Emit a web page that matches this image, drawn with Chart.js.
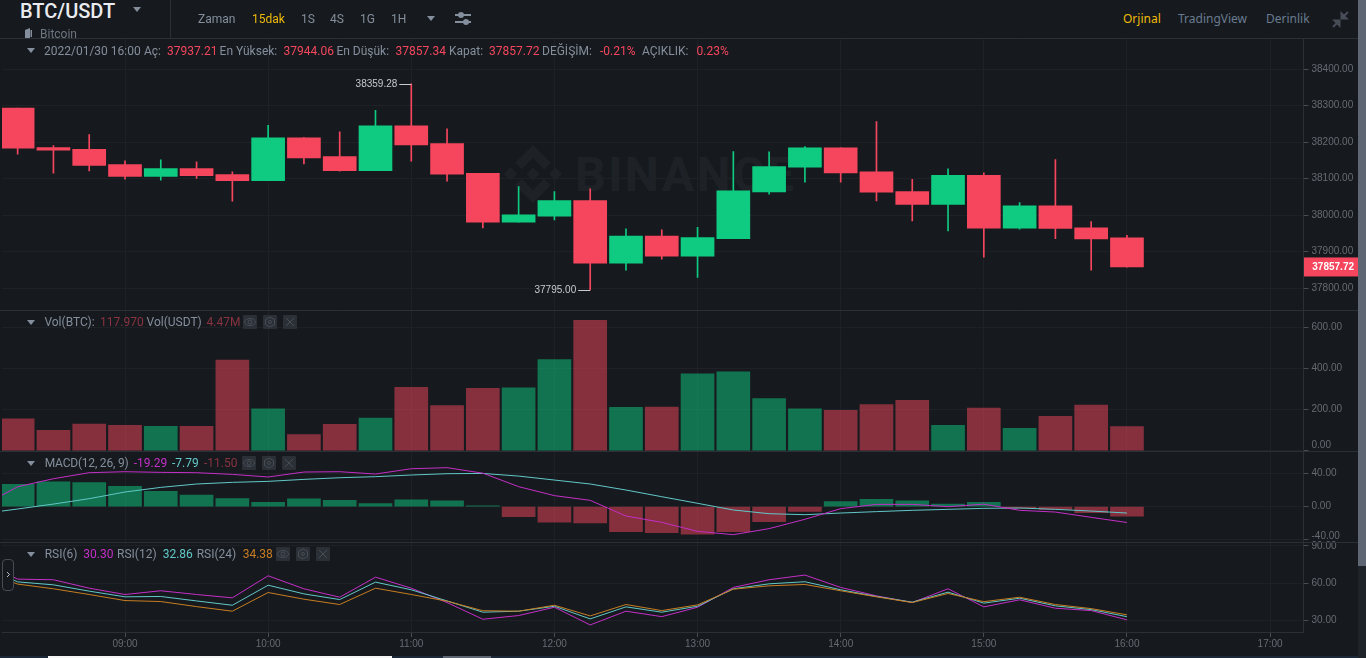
<!DOCTYPE html>
<html lang="tr">
<head>
<meta charset="utf-8">
<title>BTC/USDT</title>
<script src="https://cdn.jsdelivr.net/npm/chart.js@4"></script>
<style>
html,body{margin:0;padding:0;width:1366px;height:658px;overflow:hidden;background:#161a1e;font-family:Roboto,sans-serif;}
#wrap{position:relative;width:1366px;height:658px;overflow:hidden;}
canvas{position:absolute;left:0;top:0;z-index:2;}
.t{position:absolute;white-space:nowrap;font-size:12px;line-height:14px;color:#848e9c;z-index:3;}
.box{position:absolute;background:#2b2f36;z-index:3;border-radius:1px;}
.abs{position:absolute;z-index:3;}
#wm{position:absolute;z-index:1;left:575px;top:147px;font:bold 48px/56px Roboto,sans-serif;letter-spacing:2.6px;color:#1e2226;}
</style>
</head>
<body>
<div id="wrap">
<svg class="abs" style="z-index:1;left:503px;top:145px" width="60" height="58" viewBox="0 0 126.61 126.61" fill="#1e2226"><path d="M38.73 53.2l24.59-24.58 24.6 24.6 14.3-14.31L63.32 0 24.43 38.9z"/><path d="M0 63.31l14.3-14.31 14.31 14.31-14.31 14.3z"/><path d="M38.73 73.41l24.59 24.59 24.6-24.6 14.31 14.29-38.9 38.91-38.91-38.88z"/><path d="M98 63.31l14.3-14.31 14.31 14.3-14.31 14.32z"/><path d="M77.83 63.3L63.32 48.78 52.59 59.51l-1.24 1.23-2.54 2.54 14.51 14.5 14.51-14.47z"/></svg>
<div id="wm">BINANCE</div>
<canvas id="c" width="1358" height="656"></canvas>
<div id="ui"></div>
</div>
<script>
// ---------- data ----------
const categories = ['08:15','08:30','08:45','09:00','09:15','09:30','09:45','10:00','10:15','10:30','10:45','11:00','11:15','11:30','11:45','12:00','12:15','12:30','12:45','13:00','13:15','13:30','13:45','14:00','14:15','14:30','14:45','15:00','15:15','15:30','15:45','16:00'];
const openPrices  = [38292.7,38184.9,38180.3,38138.3,38105.4,38127.4,38110.9,38094.4,38211.4,38160.2,38121.8,38244.2,38195.8,38114.5,37980.3,37996.7,38039.6,37868.0,37942.0,37887.1,37935.5,38063.4,38131.0,38184.0,38118.2,38064.3,38028.7,38109.0,37963.9,38025.0,37964.8,37937.21];
const highPrices  = [38292.7,38190.4,38220.5,38148.3,38151.0,38145.6,38118.2,38246.0,38212.0,38227.8,38287.1,38359.28,38236.0,38114.5,38078.0,38064.3,38071.6,37962.0,37959.3,37966.6,38173.9,38173.0,38187.6,38184.0,38256.0,38098.0,38126.4,38115.4,38034.2,38152.0,37982.0,37944.06];
const lowPrices   = [38166.7,38114.5,38121.0,38098.1,38095.4,38100.0,38037.8,38094.4,38140.0,38120.0,38121.8,38147.4,38092.6,37964.8,37980.3,37986.7,37795.0,37848.8,37879.0,37828.7,37935.5,38057.0,38090.0,38090.0,38038.7,37984.0,37956.5,37884.4,37961.0,37935.5,37848.8,37857.34];
const closePrices = [38183.1,38177.6,38135.6,38105.4,38127.4,38108.1,38094.4,38211.4,38156.5,38121.8,38244.2,38192.2,38111.8,37980.3,38000.4,38039.6,37868.0,37942.0,37887.1,37938.3,38066.1,38132.8,38184.0,38115.4,38062.5,38028.7,38109.0,37963.9,38025.0,37963.0,37934.6,37857.72];
const volumes     = [155.5,98.8,129.6,123,118,118,440.6,204,79,128,158.8,309,220,303,306,444,635,210.6,212,374,384,254,204,196,225,245,123,207,108.5,167,222,117.97];
const macdHist    = [27,29.9,29.1,24.6,18.6,14.1,9.7,5.3,9.3,7.7,3.6,8.1,6.9,0.8,-12.1,-19,-19.8,-30.3,-31.5,-33.5,-30.3,-18.2,-5.7,6,8.9,6.9,3.2,5.3,-2,-3.3,-7.3,-11.5];
// line series begin one bar earlier, at 08:00, just off the left edge
const lineCategories = ['08:00'].concat(categories);
const difLine = [0.7,24.1,33.8,41.1,42.3,41.5,41.1,39.1,35.9,41.9,42.3,39.5,45.9,47.2,40.5,24.2,13.3,7.6,-11.4,-19.1,-30,-34,-26.7,-15.4,-2.5,2.7,2.7,-0.1,3,-4.5,-6.6,-13,-19.29];
const deaLine = [-8.6,-2.9,3.1,9.6,17.7,23.3,27.4,29.4,30.6,33,35,36.3,38.3,39.9,40.2,37,32.2,27.4,20.1,12,4,-4.1,-8.6,-9.8,-7.8,-6.1,-4.5,-3.3,-2.1,-1.7,-3.3,-5.4,-7.79];
const rsi6  = [78,63.2,62.7,55.9,50.8,53.8,50.8,48.1,65.9,55.4,48.6,64.8,55.9,44.3,30.8,33.8,40.5,26.2,37.3,32.9,40.5,56.5,62.7,66.5,56.5,49.7,44.3,55.4,40.8,46.5,39.7,37.8,30.30];
const rsi12 = [74,61,58.6,53.5,48.9,49.2,45.6,42.1,58.3,51.3,46.7,60.8,54.6,45.6,36.5,37.3,41.3,31.1,40.8,36.5,41.3,55.4,59.4,61.1,54.6,49.2,44.6,52.7,43.8,47.8,41.6,38.6,32.86];
const rsi24 = [70,59.2,55.4,50.8,45.9,45.1,41,37.3,52.4,47,42.7,55.9,50.8,45.4,37.7,37.3,42.1,33.5,42.7,37.8,42.4,55.1,57.8,58.9,53.8,48.9,44.3,51.6,45,48.6,42.7,39.4,34.38];
const priceTicks = [37800,37900,38000,38100,38200,38300,38400];
const volumeTicks = [0,200,400,600];
const macdTicks = [-40,0,40];
const rsiTicks = [30,60,90];
const timeTicks = ['09:00','10:00','11:00','12:00','13:00','14:00','15:00','16:00','17:00'];
const lastPrice = 37857.72;

// ---------- helpers ----------
const UP='#0ecb81', DOWN='#f6465d', UP_DIM='rgba(14,203,129,.5)', DOWN_DIM='rgba(246,70,93,.5)';
const GRID='#1e2226', LINE='#2b2f36', TICK='#474d57', LABEL='#666b73';
const PURPLE='#c42fc7', CYAN='#62c8c8', ORANGE='#c77d22';
const AXIS_FONT='"Liberation Sans",Arial,sans-serif';
const minutes = s => { const [h,m]=s.split(':').map(Number); return h*60+m; };
const isUp = categories.map((_,i)=>closePrices[i]>=openPrices[i]);
const candleColors = isUp.map(u=>u?UP:DOWN);
const volColors = isUp.map(u=>u?UP_DIM:DOWN_DIM);
const histColors = macdHist.map(v=>v>=0?UP_DIM:DOWN_DIM);
const bars = (fn)=>categories.map((c,i)=>({x:minutes(c),y:fn(i)}));
const line = (vals)=>lineCategories.map((c,i)=>({x:minutes(c),y:vals[i]}));
const lineDs = (label,vals,color,axis)=>({type:'line',label,data:line(vals),yAxisID:axis,borderColor:color,borderWidth:1,pointRadius:0,tension:0,order:0});

function yScale(weight,min,max,ticks,edge,lineHeight){
  return {
    type:'linear',position:'right',stack:'panes',stackWeight:weight,min,max,
    grid:{color:GRID,tickColor:TICK,tickLength:5,lineWidth:1},
    border:{color:LINE},
    afterBuildTicks:s=>{s.ticks=ticks.map(v=>({value:v}));},
    afterFit:s=>{s.width=54.5;s.paddingTop=0;s.paddingBottom=0;s.paddingLeft=0;s.paddingRight=0;},
    ticks:{color:LABEL,padding:3,autoSkip:false,font:{family:AXIS_FONT,size:10,lineHeight:lineHeight||'13px'},
      callback:v=>v===edge?[v.toFixed(2),'']:v.toFixed(2)}
  };
}

const paneDecor={
  id:'paneDecor',
  beforeDatasetsDraw(ch){
    const c=ch.ctx; c.save(); c.strokeStyle=LINE; c.lineWidth=1;
    ['yPrice','yVol','yMacd','yRsi'].forEach(id=>{
      const y=Math.floor(ch.scales[id].top)+.5; c.beginPath(); c.moveTo(0,y); c.lineTo(ch.width,y); c.stroke();
    });
    const by=Math.floor(ch.chartArea.bottom)+.5; c.beginPath(); c.moveTo(ch.chartArea.left,by); c.lineTo(ch.chartArea.right,by); c.stroke();
    c.restore();
  },
  afterDatasetsDraw(ch){
    const c=ch.ctx, yS=ch.scales.yPrice, xS=ch.scales.x; c.save();
    // highest / lowest annotations
    const hi=Math.max(...highPrices), lo=Math.min(...lowPrices);
    [[hi,highPrices.indexOf(hi)],[lo,lowPrices.indexOf(lo)]].forEach(([v,i])=>{
      const x=xS.getPixelForValue(minutes(categories[i])), y=Math.round(yS.getPixelForValue(v))+.5;
      c.strokeStyle='#c8cacc'; c.beginPath(); c.moveTo(x-12,y); c.lineTo(x,y); c.stroke();
      c.fillStyle='#c8cacc'; c.font='10px '+AXIS_FONT; c.textAlign='right'; c.textBaseline='middle';
      c.fillText(v.toFixed(2),x-14,y);
    });
    // last price tag
    const py=yS.getPixelForValue(lastPrice), left=ch.chartArea.right+.5;
    c.fillStyle=DOWN; c.fillRect(left,py-9.5,ch.width-left,19);
    c.fillStyle='#fff'; c.font='bold 10px '+AXIS_FONT; c.textAlign='right'; c.textBaseline='middle';
    c.fillText(lastPrice.toFixed(2),ch.width-4,py+.5);
    c.restore();
  }
};

new Chart(document.getElementById('c'),{
  type:'bar',
  data:{datasets:[
    {label:'Wick',data:bars(i=>[lowPrices[i],highPrices[i]]),yAxisID:'yPrice',grouped:false,barThickness:1,backgroundColor:candleColors,borderSkipped:false,borderWidth:0,order:3},
    {label:'Candle',data:bars(i=>[openPrices[i],closePrices[i]]),yAxisID:'yPrice',grouped:false,barThickness:33,backgroundColor:candleColors,borderSkipped:false,borderWidth:0,order:2},
    {label:'Vol(BTC)',data:bars(i=>volumes[i]),yAxisID:'yVol',grouped:false,barThickness:33,backgroundColor:volColors,borderWidth:0,order:2},
    {label:'MACD hist',data:bars(i=>macdHist[i]),yAxisID:'yMacd',grouped:false,barThickness:33,backgroundColor:histColors,borderWidth:0,order:2},
    lineDs('DIF',difLine,PURPLE,'yMacd'),
    lineDs('DEA',deaLine,CYAN,'yMacd'),
    lineDs('RSI(24)',rsi24,ORANGE,'yRsi'),
    lineDs('RSI(12)',rsi12,CYAN,'yRsi'),
    lineDs('RSI(6)',rsi6,PURPLE,'yRsi')
  ]},
  options:{
    responsive:false,animation:false,devicePixelRatio:1,
    layout:{padding:{top:38.5,left:2,right:0,bottom:0}},
    plugins:{legend:{display:false},tooltip:{enabled:false}},
    events:[],
    scales:{
      x:{type:'linear',position:'bottom',offset:false,min:488.44,max:1034,
        grid:{color:GRID,tickColor:TICK,tickLength:5,offset:false},border:{color:LINE},
        afterBuildTicks:s=>{s.ticks=timeTicks.map(t=>({value:minutes(t)}));},
        afterFit:s=>{s.height=24;s.paddingLeft=0;s.paddingRight=0;s.paddingTop=0;s.paddingBottom=0;},
        ticks:{color:LABEL,padding:1,autoSkip:false,maxRotation:0,font:{family:AXIS_FONT,size:10},
          callback:v=>{const h=Math.floor(v/60),m=v%60;return String(h).padStart(2,'0')+':'+String(m).padStart(2,'0');}}
      },
      yPrice:yScale(272,37738.4,38483.6,priceTicks),
      yVol:yScale(140.5,-1.5,682.5,volumeTicks,0,'10px'),
      yMacd:yScale(91,-42.9,67.4,macdTicks,-40,'7.2px'),
      yRsi:yScale(90,20.5,93.2,rsiTicks)
    }
  },
  plugins:[paneDecor]
});

// ---------- page chrome ----------
const ui=document.getElementById('ui');
function T(x,y,s,color,extra){
  const d=document.createElement('div');d.className='t';d.textContent=s;
  d.style.left=x+'px';d.style.top=(y-7)+'px';if(color)d.style.color=color;
  if(extra)Object.assign(d.style,extra);ui.appendChild(d);return d;
}
function H(html){const d=document.createElement('div');d.innerHTML=html;ui.appendChild(d.firstChild);}
function tri(x,y,c){H(`<svg class="abs" style="left:${x}px;top:${y}px" width="8" height="5"><path d="M0 0H8L4 5Z" fill="${c||'#848e9c'}"/></svg>`);}
function buttons(x0,y,step){[0,1,2].forEach(i=>{
  const x=x0+i*step;
  H(`<div class="box" style="left:${x}px;top:${y}px;width:14px;height:14px"></div>`);
  const g=['<circle cx="7" cy="7" r="2" fill="none" stroke="#474d57"/><ellipse cx="7" cy="7" rx="5.5" ry="3.5" fill="none" stroke="#474d57"/>',
           '<path d="M7 2l4.5 2.5v5L7 12 2.5 9.5v-5z" fill="none" stroke="#474d57"/><circle cx="7" cy="7" r="1.5" fill="none" stroke="#474d57"/>',
           '<path d="M3 3l8 8M11 3l-8 8" stroke="#474d57"/>'][i];
  H(`<svg class="abs" style="left:${x}px;top:${y}px" width="14" height="14">${g}</svg>`);
});}

// header
H('<div class="abs" style="left:0;top:0;width:1358px;height:38px;background:#161a1e;z-index:2"></div>');
H('<div class="abs" style="left:170px;top:0;width:1px;height:38px;background:#2b2f36"></div>');
T(20,11,'BTC/USDT','#eaecef',{fontSize:'20px',lineHeight:'14px',fontWeight:'500'});
tri(133,7,'#848e9c');
T(40,34,'Bitcoin','#6e7681');
H('<svg class="abs" style="left:25px;top:28px" width="7" height="11"><path d="M0 2L5 0V10H0ZM5.500 2H7V9H5.500Z" fill="#848e9c"/></svg>');
[[198,'Zaman','#848e9c'],[252,'15dak','#f0b90b'],[301,'1S','#848e9c'],[330,'4S','#848e9c'],[360,'1G','#848e9c'],[391,'1H','#848e9c']].forEach(a=>T(a[0],19,a[1],a[2]));
tri(427,16,'#848e9c');
H('<svg class="abs" style="left:455px;top:11px" width="17" height="15"><path d="M0 4H16M0 11H16" stroke="#848e9c" stroke-width="2"/><circle cx="6" cy="4" r="3" fill="#848e9c"/><circle cx="11" cy="11" r="3" fill="#848e9c"/></svg>');
const hf={fontFamily:'"Noto Sans",sans-serif'};
T(1123,19,'Orjinal','#f0b90b',hf);T(1178,19,'TradingView','#6a7a90',hf);T(1266,19,'Derinlik','#6a7a90',hf);
H('<svg class="abs" style="left:1332px;top:11px" width="17" height="17"><path d="M16 1L11 6M9.500 2.500V7.500H14.500ZM1 16L6 11M7.500 14.500V9.500H2.500Z" stroke="#474d57" stroke-width="2" fill="#474d57"/></svg>');

// OHLC legend
tri(27,48);
const R='#f6465d', G='#848e9c';
[[44,'2022/01/30 16:00',G],[144,'Aç:',G],[167,'37937.21',R],[219.6,'En Yüksek:',G],[283.6,'37944.06',R],[336.4,'En Düşük:',G],[395.5,'37857.34',R],[449,'Kapat:',G],[489,'37857.72',R],[542,'DEĞİŞİM:',G],[600,'-0.21%',R],[642,'AÇIKLIK:',G],[696.5,'0.23%',R]].forEach(a=>T(a[0],50.5,a[1],a[2]));

// Vol legend
tri(27,320);
const DR='#8a3340';
[[44.4,'Vol(BTC):',G],[100,'117.970',DR],[146.6,'Vol(USDT)',G],[206.6,'4.47M',DR]].forEach(a=>T(a[0],322,a[1],a[2]));
buttons(243,315,20);

// MACD legend
tri(27,461);
[[44.7,'MACD(12, 26, 9)',G,{letterSpacing:'-0.2px'}],[133.7,'-19.29',PURPLE],[172,'-7.79',CYAN],[204,'-11.50',DR]].forEach(a=>T(a[0],463,a[1],a[2],a[3]));
buttons(242,456,20);

// RSI legend
tri(27,552);
[[44.7,'RSI(6)',G],[83.3,'30.30',PURPLE],[117,'RSI(12)',G],[162.7,'32.86',CYAN],[196.7,'RSI(24)',G],[242.7,'34.38',ORANGE]].forEach(a=>T(a[0],554,a[1],a[2]));
buttons(276,547,20);

// collapse handle
H('<div class="abs" style="left:2px;top:559px;width:10px;height:30px;border:1px solid #474d57;border-radius:4px;background:#161a1e"></div>');
H('<svg class="abs" style="left:6px;top:571px" width="5" height="7"><path d="M1 1l2.500 2.500L1 6" stroke="#b7bdc6" fill="none"/></svg>');

// scrollbars
H('<div class="abs" style="left:1358px;top:0;width:8px;height:658px;background:#1e2329"></div>');
H('<div class="abs" style="left:1358px;top:0;width:8px;height:566px;background:#5e6673"></div>');
H('<div class="abs" style="left:0;top:656px;width:1358px;height:2px;background:#1c2738"></div>');
H('<div class="abs" style="left:48px;top:656px;width:344px;height:2px;background:#f5f5f5"></div>');
H('<div class="abs" style="left:443px;top:656px;width:48px;height:2px;background:#5e6673"></div>');
</script>
</body>
</html>
